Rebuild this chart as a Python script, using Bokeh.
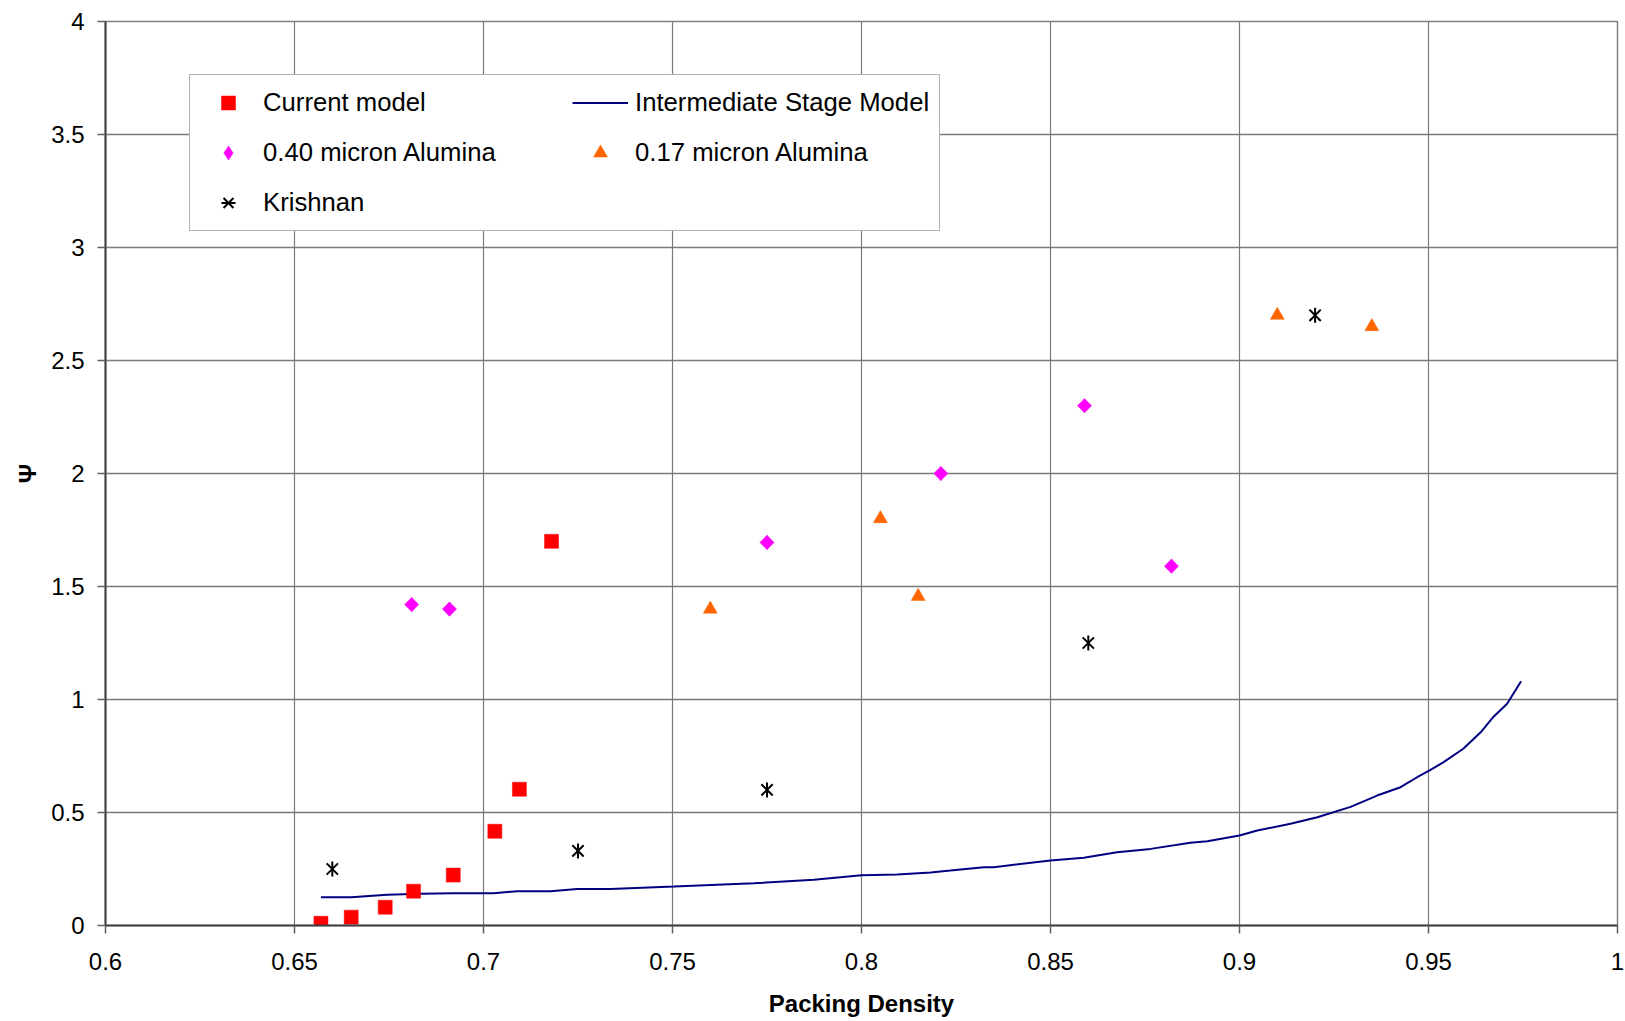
import math
from bokeh.plotting import figure
from bokeh.models import Range1d, FixedTicker, CustomJSTickFormatter, Legend, LegendItem
from bokeh.embed import file_html
from bokeh.resources import INLINE

# ---- data ----
current_x = [0.657, 0.665, 0.674, 0.6815, 0.692, 0.703, 0.7095, 0.718]
current_y = [0.01, 0.037, 0.081, 0.152, 0.223, 0.417, 0.603, 1.70]

alum040_x = [0.681, 0.691, 0.775, 0.821, 0.859, 0.882]
alum040_y = [1.42, 1.40, 1.695, 2.00, 2.30, 1.59]

alum017_x = [0.760, 0.805, 0.815, 0.910, 0.935]
alum017_y = [1.40, 1.80, 1.456, 2.70, 2.65]

krishnan_x = [0.660, 0.725, 0.775, 0.860, 0.920]
krishnan_y = [0.25, 0.33, 0.60, 1.25, 2.70]

model_x = [0.657, 0.665, 0.6745, 0.6833, 0.6921, 0.7027, 0.7089, 0.7177, 0.7248, 0.7336,
           0.7504, 0.7716, 0.7874, 0.800, 0.8094, 0.8183, 0.8235, 0.8324, 0.835, 0.850,
           0.8588, 0.8676, 0.8765, 0.887, 0.8915, 0.900, 0.9047, 0.9135, 0.9206, 0.9294,
           0.9364, 0.9426, 0.947, 0.9503, 0.954, 0.9592, 0.9638, 0.967, 0.9708, 0.9745]
model_y = [0.125, 0.125, 0.136, 0.140, 0.143, 0.143, 0.152, 0.152, 0.162, 0.162,
           0.173, 0.187, 0.202, 0.222, 0.226, 0.235, 0.243, 0.258, 0.258, 0.288,
           0.300, 0.324, 0.339, 0.366, 0.373, 0.398, 0.420, 0.450, 0.479, 0.525,
           0.575, 0.612, 0.656, 0.686, 0.723, 0.782, 0.855, 0.920, 0.981, 1.081]

x_ticks = [0.6, 0.65, 0.7, 0.75, 0.8, 0.85, 0.9, 0.95, 1.0]
x_tick_labels = ["0.6", "0.65", "0.7", "0.75", "0.8", "0.85", "0.9", "0.95", "1"]
y_ticks = [0, 0.5, 1, 1.5, 2, 2.5, 3, 3.5, 4]
y_tick_labels = ["0", "0.5", "1", "1.5", "2", "2.5", "3", "3.5", "4"]

FONT = "Liberation Sans"

p = figure(width=1625, height=1021, output_backend="svg", toolbar_location=None,
           x_range=Range1d(0.6, 1.0), y_range=Range1d(0, 4),
           min_border_left=105, min_border_right=8, min_border_top=21, min_border_bottom=96)
p.background_fill_color = "white"
p.border_fill_color = "white"
p.outline_line_color = "#808080"
p.outline_line_width = 1.5

fmt_code = """
const i = tv.findIndex(t => Math.abs(t - tick) < 1e-9);
return i >= 0 ? tl[i] : "";
"""
p.xaxis.ticker = FixedTicker(ticks=x_ticks)
p.yaxis.ticker = FixedTicker(ticks=y_ticks)
p.xaxis.formatter = CustomJSTickFormatter(args=dict(tv=x_ticks, tl=x_tick_labels), code=fmt_code)
p.yaxis.formatter = CustomJSTickFormatter(args=dict(tv=y_ticks, tl=y_tick_labels), code=fmt_code)

for ax in (p.xaxis, p.yaxis):
    ax.axis_line_color = "#404040"
    ax.axis_line_width = 2
    ax.major_tick_line_color = "#606060"
    ax.major_tick_line_width = 1.5
    ax.major_tick_out = 8
    ax.major_tick_in = 0
    ax.minor_tick_line_color = None
    ax.major_label_text_font = FONT
    ax.major_label_text_font_size = "24px"
    ax.major_label_text_color = "black"
    ax.axis_label_text_font = FONT
    ax.axis_label_text_font_size = "24px"
    ax.axis_label_text_font_style = "bold"
    ax.axis_label_text_color = "black"

p.xaxis.major_label_standoff = 19
p.yaxis.major_label_standoff = 13
p.xaxis.axis_label = "Packing Density"
p.xaxis.axis_label_standoff = 17
p.yaxis.axis_label = "Ψ"
p.yaxis.axis_label_standoff = 7

p.xgrid.grid_line_color = "#7a7a7a"
p.ygrid.grid_line_color = "#7a7a7a"
p.xgrid.grid_line_width = 1.2
p.ygrid.grid_line_width = 1.5

r_model = p.line(model_x, model_y, line_color="#000080", line_width=2)
r_cur = p.scatter(current_x, current_y, marker="square", size=14,
                  fill_color="#FF0000", line_color="#FF0000", line_width=0.5)
# diamond glyph (used for the legend swatch), covered by the rotated squares below
r_040_leg = p.scatter(alum040_x, alum040_y, marker="diamond", size=14,
                      fill_color="#FF00FF", line_color="#FF00FF", line_width=0.5)
r_040 = p.scatter(alum040_x, alum040_y, marker="square", angle=math.pi / 4, size=10,
                  fill_color="#FF00FF", line_color="#FF00FF", line_width=0.5)
r_017 = p.scatter(alum017_x, alum017_y, marker="triangle", size=14,
                  fill_color="#FF6600", line_color="#FF6600", line_width=0.5)
r_kx = p.scatter(krishnan_x, krishnan_y, marker="x", size=16,
                 line_color="black", line_width=2)
r_kv = p.scatter(krishnan_x, krishnan_y, marker="dash", angle=math.pi / 2, size=15,
                 line_color="black", line_width=2)

legend = Legend(items=[
    LegendItem(label="Current model", renderers=[r_cur]),
    LegendItem(label="0.40 micron Alumina", renderers=[r_040_leg]),
    LegendItem(label="Krishnan", renderers=[r_kx, r_kv]),
    LegendItem(label="Intermediate Stage Model", renderers=[r_model]),
    LegendItem(label="0.17 micron Alumina", renderers=[r_017]),
], ncols=2, orientation="vertical")
legend.location = (84, 694)
legend.padding = 10
legend.margin = 0
legend.spacing = 15
legend.glyph_width = 56
legend.glyph_height = 35
legend.label_standoff = 7
legend.label_width = 294
legend.label_text_font = FONT
legend.label_text_font_size = "25.7px"
legend.label_text_color = "black"
legend.border_line_color = "#666666"
legend.border_line_width = 1.5
legend.background_fill_color = "white"
legend.background_fill_alpha = 1
p.add_layout(legend, "center")

open("out.html", "w").write(file_html(p, INLINE))
